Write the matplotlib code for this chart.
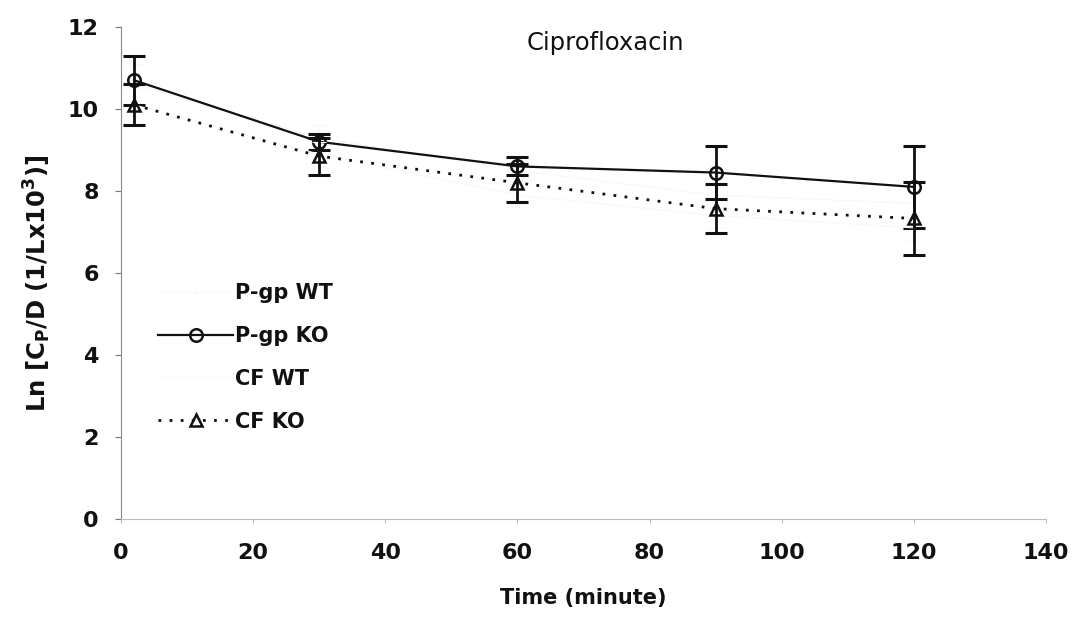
import matplotlib
matplotlib.use("Agg")
import matplotlib.pyplot as plt
from matplotlib.lines import Line2D

# Sampling times (minutes)
time_min = [2, 30, 60, 90, 120]

# Ln[Cp/D] means and SDs
pgp_wt = [10.6, 9.3, 8.5, 7.9, 7.7]
pgp_wt_sd = [0.5, 0.3, 0.3, 0.4, 0.5]
pgp_ko = [10.7, 9.2, 8.6, 8.45, 8.1]
pgp_ko_sd = [0.6, 0.2, 0.22, 0.65, 1.0]
cf_wt = [10.1, 8.9, 7.9, 7.4, 7.1]
cf_wt_sd = [0.4, 0.3, 0.3, 0.3, 0.3]
cf_ko = [10.1, 8.85, 8.2, 7.57, 7.33]
cf_ko_sd = [0.5, 0.45, 0.46, 0.6, 0.88]

series_labels = ["P-gp WT", "P-gp KO", "CF WT", "CF KO"]

plt.rcParams["font.family"] = ["DejaVu Sans"]
plt.rcParams["mathtext.fontset"] = "custom"
plt.rcParams["mathtext.rm"] = "DejaVu Sans:bold"
plt.rcParams["mathtext.default"] = "regular"

fig = plt.figure(figsize=(10.86, 6.24), dpi=100)
ax = fig.add_axes([0.1114, 0.1683, 0.8518, 0.7884])

faint = "#f8f8f8"
ink = "#111111"

styles = [
    dict(color=faint, lw=0.8, ls="-", marker=".", ms=3, mfc=faint),
    dict(color=ink, lw=1.6, ls="-", marker="o", ms=9, mfc="none", mew=1.8),
    dict(color=faint, lw=0.8, ls="-", marker="none"),
    dict(color=ink, lw=2.0, ls=(0, (1, 3)), marker="^", ms=9, mfc="none",
         mew=1.8),
]
means = [pgp_wt, pgp_ko, cf_wt, cf_ko]
sds = [pgp_wt_sd, pgp_ko_sd, cf_wt_sd, cf_ko_sd]

handles = []
for m, s, st, lab in zip(means, sds, styles, series_labels):
    strong = st["color"] == ink
    ax.errorbar(time_min, m, yerr=s, fmt="none", ecolor=st["color"],
                elinewidth=2.0 if strong else 0.8,
                capsize=8 if strong else 5,
                capthick=2.2 if strong else 0.8)
    ax.plot(time_min, m, **st)
    handles.append(Line2D([], [], **st))

ax.set_xlim(0, 140)
ax.set_ylim(0, 12)
ax.set_xticks(range(0, 141, 20))
ax.set_yticks(range(0, 13, 2))

for s in ("top", "right"):
    ax.spines[s].set_visible(False)
ax.spines["left"].set_color("#888888")
ax.spines["left"].set_linewidth(0.8)
ax.spines["bottom"].set_color("#bbbbbb")
ax.spines["bottom"].set_linewidth(0.8)
ax.tick_params(axis="y", length=4, width=0.8, color="#777777", pad=12,
               labelsize=16, labelcolor=ink)
ax.tick_params(axis="x", length=3, width=0.8, color="#bbbbbb", pad=14,
               labelsize=16, labelcolor=ink)
for lab in ax.get_xticklabels() + ax.get_yticklabels():
    lab.set_fontweight("bold")

ax.set_xlabel("Time (minute)", fontsize=15, fontweight="bold", labelpad=18,
              color=ink)
ax.set_ylabel(r"Ln [C$_{P}$/D (1/Lx10$^{3}$)]", fontsize=17.5,
              fontweight="bold", color=ink)
ax.yaxis.set_label_coords(-0.074, 0.48)

ax.text(0.524, 0.967, "Ciprofloxacin", transform=ax.transAxes,
        ha="center", va="center", fontsize=17.5, color=ink)

leg = ax.legend(handles, series_labels, loc="upper left",
                bbox_to_anchor=(0.02, 0.518), frameon=False, fontsize=15,
                handlelength=3.6, handletextpad=0.1, labelspacing=1.1)
for t in leg.get_texts():
    t.set_fontweight("bold")
    t.set_color(ink)

fig.savefig("out.png", dpi=100)
